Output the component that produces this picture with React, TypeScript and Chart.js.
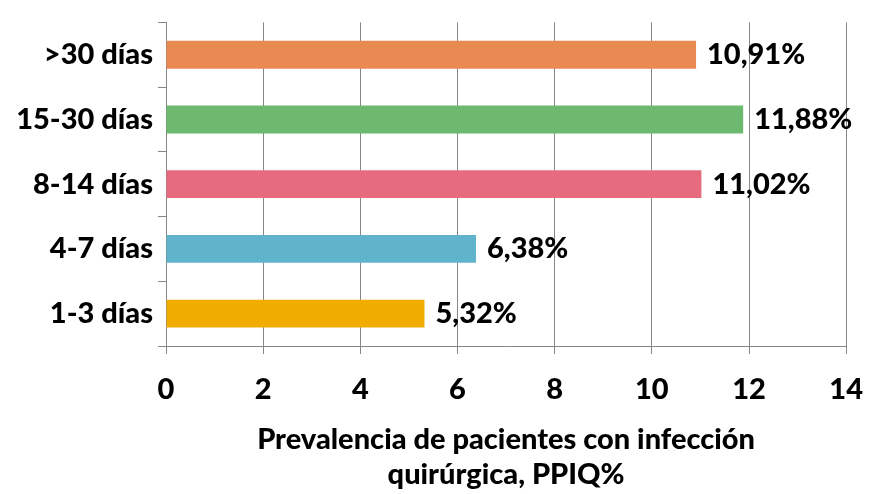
import React, { useEffect, useRef } from "react";
import { Chart, registerables } from "chart.js";

Chart.register(...registerables);

const categories = [">30 días", "15-30 días", "8-14 días", "4-7 días", "1-3 días"];
const values = [10.91, 11.88, 11.02, 6.38, 5.32];
const colors = ["#E98A53", "#6DB970", "#E76B7E", "#5FB4CC", "#F0AC00"];
const xMin = 0;
const xMax = 14;
const xStep = 2;
const xTitle = ["Prevalencia de pacientes con infección", "quirúrgica, PPIQ%"];

const FONT = "Lato, 'Open Sans', sans-serif";
const AXIS = "#868686";

const fmt = (v: number) => v.toFixed(2).replace(".", ",") + "%";

const valueLabels = {
  id: "valueLabels",
  afterDatasetsDraw(chart: any) {
    const { ctx } = chart;
    const meta = chart.getDatasetMeta(0);
    ctx.save();
    ctx.font = `900 29px ${FONT}`;
    ctx.fillStyle = "#000";
    ctx.textAlign = "left";
    ctx.textBaseline = "middle";
    meta.data.forEach((bar: any, i: number) => {
      ctx.fillText(fmt(values[i]), bar.x + 11, bar.y);
    });
    ctx.restore();
  },
};

export default function App() {
  const ref = useRef<HTMLCanvasElement | null>(null);
  useEffect(() => {
    if (!ref.current) return;
    const chart = new Chart(ref.current, {
      type: "bar",
      data: {
        labels: categories,
        datasets: [
          {
            data: values,
            backgroundColor: colors,
            borderWidth: 0,
            barPercentage: 0.43,
            categoryPercentage: 1,
          },
        ],
      },
      options: {
        indexAxis: "y",
        animation: false,
        responsive: true,
        maintainAspectRatio: false,
        layout: { padding: { top: 10, right: 34, left: 0, bottom: 0 } },
        plugins: {
          legend: { display: false },
          tooltip: { enabled: false },
        },
        scales: {
          y: {
            afterFit: (s: any) => {
              s.width = 166;
            },
            grid: {
              display: true,
              drawOnChartArea: false,
              drawTicks: true,
              tickLength: 8,
              color: AXIS,
              offset: true,
            },
            border: { display: true, color: AXIS, width: 1 },
            ticks: {
              color: "#000",
              font: { family: FONT, size: 29, weight: "900" },
              padding: 5,
            },
          },
          x: {
            min: xMin,
            max: xMax,
            afterFit: (s: any) => {
              s.height = 148;
            },
            grid: {
              color: AXIS,
              tickLength: 8,
              lineWidth: 1,
            },
            border: { display: true, color: AXIS, width: 1 },
            ticks: {
              stepSize: xStep,
              color: "#000",
              font: { family: FONT, size: 29, weight: "900" },
              padding: 18,
            },
            title: {
              display: true,
              text: xTitle,
              color: "#000",
              font: { family: FONT, size: 29, weight: "900", lineHeight: 1.2 },
              padding: { top: 8, bottom: 2 },
            },
          },
        },
      },
      plugins: [valueLabels],
    });
    return () => chart.destroy();
  }, []);
  return (
    <div style={{ position: "absolute", left: 0, top: 0, width: 881, height: 494 }}>
      <canvas ref={ref} />
    </div>
  );
}
